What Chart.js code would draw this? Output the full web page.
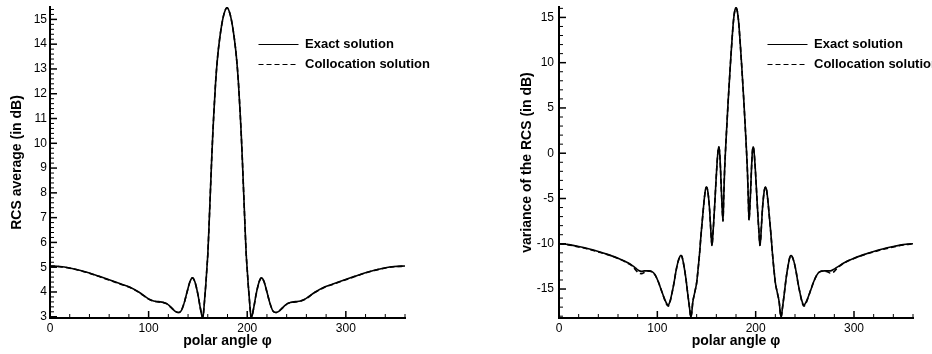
<!DOCTYPE html>
<html>
<head>
<meta charset="utf-8">
<script src="https://cdn.jsdelivr.net/npm/chart.js@4/dist/chart.umd.min.js"></script>
<style>
  html, body { margin: 0; padding: 0; background: #fff; width: 932px; height: 354px; overflow: hidden; }
  .panel { position: absolute; top: 0; width: 466px; height: 354px; }
</style>
</head>
<body>
<div class="panel" style="left:0"><canvas id="avgChart" width="466" height="354"></canvas></div>
<div class="panel" style="left:466px"><canvas id="varChart" width="466" height="354"></canvas></div>
<script>
// ---- RCS average (dB) versus polar angle ----
const avgAngle = [0, 10, 20, 30, 40, 50, 60, 70, 80, 90, 100, 105, 110, 115, 118, 121, 124, 127, 130, 133,
  136, 139, 142, 144.5, 147, 150, 152, 154, 155, 156, 157, 158, 159, 160, 161, 162, 163, 164, 165, 166,
  168, 170, 172, 174, 176, 178, 179.5, 181, 183, 185, 187, 189, 191, 193, 194, 195, 196, 197, 198, 199,
  200, 201, 202, 203, 204, 205, 207, 209, 212, 214.5, 217, 220, 223, 226, 229, 232, 235, 238, 241, 244,
  249, 254, 259, 269, 279, 289, 299, 309, 319, 329, 339, 349, 360];
const avgExact = [5.05, 5.03, 4.97, 4.88, 4.77, 4.63, 4.49, 4.35, 4.21, 4.0, 3.72, 3.64, 3.61, 3.58, 3.54, 3.45, 3.33, 3.22, 3.17, 3.24,
  3.55, 4.0, 4.42, 4.57, 4.4, 3.9, 3.45, 3.05, 2.95, 3.3, 3.8, 4.3, 4.9, 5.5, 6.4, 7.4, 8.4, 9.4, 10.3, 11.1,
  12.5, 13.5, 14.2, 14.75, 15.15, 15.4, 15.47, 15.4, 15.15, 14.75, 14.2, 13.5, 12.5, 11.1, 10.3, 9.4, 8.4, 7.4, 6.4, 5.5,
  4.9, 4.3, 3.8, 3.3, 2.95, 3.05, 3.45, 3.9, 4.4, 4.57, 4.42, 4.0, 3.55, 3.24, 3.17, 3.22, 3.33, 3.45, 3.54, 3.58,
  3.61, 3.64, 3.72, 4.0, 4.21, 4.35, 4.49, 4.63, 4.77, 4.88, 4.97, 5.03, 5.05];
const avgColloc = [5.04, 5.02, 4.96, 4.87, 4.76, 4.62, 4.48, 4.34, 4.2, 3.99, 3.71, 3.63, 3.6, 3.57, 3.53, 3.44, 3.33, 3.22, 3.17, 3.24,
  3.55, 4.0, 4.42, 4.57, 4.4, 3.9, 3.45, 3.05, 2.95, 3.3, 3.8, 4.3, 4.9, 5.5, 6.4, 7.4, 8.4, 9.4, 10.3, 11.1,
  12.5, 13.5, 14.2, 14.75, 15.15, 15.4, 15.47, 15.4, 15.15, 14.75, 14.2, 13.5, 12.5, 11.1, 10.3, 9.4, 8.4, 7.4, 6.4, 5.5,
  4.9, 4.3, 3.8, 3.3, 2.95, 3.05, 3.45, 3.9, 4.4, 4.57, 4.42, 4.0, 3.55, 3.24, 3.17, 3.22, 3.33, 3.44, 3.53, 3.57,
  3.6, 3.63, 3.71, 3.99, 4.2, 4.34, 4.48, 4.62, 4.76, 4.87, 4.96, 5.02, 5.04];
const avgYTicks = [3, 4, 5, 6, 7, 8, 9, 10, 11, 12, 13, 14, 15];

// ---- variance of the RCS (dB) versus polar angle ----
const varAngle = [0, 10, 20, 30, 40, 50, 60, 70, 75, 78, 81, 84, 87, 90, 95, 98, 101, 104, 107, 109,
  111, 113, 115, 117, 119, 121, 123, 124, 125, 127, 129, 131, 133, 134, 135, 136, 138, 140, 141, 142,
  143, 144, 145, 146, 147, 148, 149, 150, 151, 152, 153, 154, 155, 155.6, 156.5, 157.5, 158.5, 159.5, 160.5, 161.5,
  162.4, 163.3, 164.2, 165, 166, 166.8, 167.5, 168.3, 169.2, 170, 171, 172, 173, 174, 175, 176, 177, 178, 179, 180,
  181, 182, 183, 184, 185, 186, 187, 188, 189, 190, 190.8, 191.7, 192.5, 193.2, 194, 195, 195.8, 196.7, 197.6, 198.5,
  199.5, 200.5, 201.5, 202.5, 203.5, 204.3, 205, 206, 207, 208, 209, 210, 211, 212, 213, 214, 215, 216, 217, 218,
  219, 220, 222, 224, 225, 226, 227, 229, 231, 233, 235, 236, 237, 239, 241, 243, 245, 247, 249, 251,
  253, 256, 259, 262, 265, 270, 273, 276, 279, 282, 285, 290, 300, 310, 320, 330, 340, 350, 360];
const varExact = [-10.0, -10.1, -10.3, -10.55, -10.85, -11.2, -11.6, -12.1, -12.45, -12.7, -12.95, -13.05, -13.0, -13.0, -13.1, -13.5, -14.2, -15.1, -16.0, -16.5,
  -16.8, -16.3, -15.4, -14.3, -13.0, -12.0, -11.4, -11.3, -11.4, -12.4, -13.8, -15.6, -17.3, -18.1, -17.6, -16.5, -15.4, -14.3, -13.3, -12.2,
  -11.0, -9.6, -8.3, -7.1, -5.9, -4.8, -4.0, -3.75, -4.0, -4.8, -6.0, -7.8, -9.6, -10.2, -9.0, -7.3, -5.4, -3.4, -1.5, 0.0,
  0.7, 0.2, -1.6, -3.8, -6.2, -7.5, -5.0, -2.2, 0.0, 1.7, 3.7, 5.7, 7.5, 9.3, 11.0, 12.6, 14.1, 15.2, 15.85, 16.05,
  15.85, 15.2, 14.1, 12.6, 11.0, 9.3, 7.5, 5.7, 3.7, 1.7, 0.0, -2.2, -5.0, -7.4, -6.2, -3.8, -1.6, 0.2, 0.7, 0.0,
  -1.5, -3.4, -5.4, -7.3, -9.0, -10.2, -9.6, -7.8, -6.0, -4.8, -4.0, -3.75, -4.0, -4.8, -5.9, -7.1, -8.3, -9.6, -11.0, -12.2,
  -13.3, -14.3, -15.4, -16.5, -17.6, -18.1, -17.3, -15.6, -13.8, -12.4, -11.4, -11.3, -11.4, -12.0, -13.0, -14.3, -15.4, -16.3, -16.8, -16.5,
  -16.0, -15.1, -14.2, -13.5, -13.1, -13.0, -13.0, -13.0, -12.85, -12.65, -12.45, -12.1, -11.6, -11.2, -10.85, -10.55, -10.3, -10.1, -10.0];
const varColloc = [-10.0, -10.12, -10.35, -10.6, -10.9, -11.22, -11.62, -12.15, -12.5, -12.9, -13.25, -13.3, -13.15, -13.0, -13.1, -13.5, -14.2, -15.1, -16.05, -16.6,
  -16.9, -16.4, -15.4, -14.3, -13.0, -12.0, -11.4, -11.3, -11.4, -12.4, -13.8, -15.6, -17.3, -18.1, -17.6, -16.5, -15.4, -14.3, -13.3, -12.2,
  -11.0, -9.6, -8.3, -7.1, -5.9, -4.8, -4.0, -3.75, -4.0, -4.8, -6.0, -7.8, -9.6, -10.2, -9.0, -7.3, -5.4, -3.4, -1.5, 0.0,
  0.7, 0.2, -1.6, -3.8, -6.2, -7.5, -5.0, -2.2, 0.0, 1.7, 3.7, 5.7, 7.5, 9.3, 11.0, 12.6, 14.1, 15.2, 15.85, 16.05,
  15.85, 15.2, 14.1, 12.6, 11.0, 9.3, 7.5, 5.7, 3.7, 1.7, 0.0, -2.2, -5.0, -7.4, -6.2, -3.8, -1.6, 0.2, 0.7, 0.0,
  -1.5, -3.4, -5.4, -7.3, -9.0, -10.2, -9.6, -7.8, -6.0, -4.8, -4.0, -3.75, -4.0, -4.8, -5.9, -7.1, -8.3, -9.6, -11.0, -12.2,
  -13.3, -14.3, -15.4, -16.5, -17.6, -18.1, -17.3, -15.6, -13.8, -12.4, -11.4, -11.3, -11.4, -12.0, -13.0, -14.3, -15.4, -16.4, -16.9, -16.6,
  -16.05, -15.1, -14.2, -13.5, -13.1, -13.0, -13.1, -13.25, -13.15, -12.8, -12.5, -12.12, -11.62, -11.22, -10.9, -10.6, -10.35, -10.12, -10.0];
const varYTicks = [-15, -10, -5, 0, 5, 10, 15];

const angleTicks = [0, 100, 200, 300];
const seriesNames = ['Exact solution', 'Collocation solution'];

const FONT = '"Liberation Sans", Arial, Helvetica, sans-serif';

// Tecplot-style inward tick marks (major + minor), positioned through the chart's scales
const inwardTicks = {
  id: 'inwardTicks',
  afterDraw(chart, args, opts) {
    const { ctx, chartArea: a, scales: { x, y } } = chart;
    ctx.save();
    ctx.strokeStyle = '#000';
    const run = (scale, minor, ratio, horizontal) => {
      const i0 = Math.ceil(scale.min / minor - 1e-9);
      const i1 = Math.floor(scale.max / minor + 1e-9);
      for (let i = i0; i <= i1; i++) {
        const major = i % ratio === 0;
        const len = major ? 7 : 4;
        ctx.lineWidth = major ? 1.5 : 1;
        const p = scale.getPixelForValue(i * minor);
        ctx.beginPath();
        if (horizontal) { ctx.moveTo(p, a.bottom); ctx.lineTo(p, a.bottom - len); }
        else { ctx.moveTo(a.left, p); ctx.lineTo(a.left + len, p); }
        ctx.stroke();
      }
    };
    run(x, opts.xMinor, opts.xRatio, true);
    run(y, opts.yMinor, opts.yRatio, false);
    ctx.restore();
  }
};

// Legend drawn inside the plot area, top right
const insideLegend = {
  id: 'insideLegend',
  afterDraw(chart) {
    const { ctx, chartArea: a } = chart;
    ctx.save();
    chart.data.datasets.forEach((ds, i) => {
      const yy = a.top + 37.5 + i * 20;
      const x0 = a.left + 208.5;
      ctx.strokeStyle = ds.borderColor;
      ctx.lineWidth = 1.2;
      ctx.setLineDash(ds.borderDash || []);
      ctx.beginPath();
      ctx.moveTo(x0, yy);
      ctx.lineTo(x0 + 40, yy);
      ctx.stroke();
      ctx.setLineDash([]);
      ctx.fillStyle = '#000';
      ctx.font = 'bold 13px ' + FONT;
      ctx.textBaseline = 'middle';
      ctx.textAlign = 'left';
      ctx.fillText(ds.label, x0 + 46.5, yy);
    });
    ctx.restore();
  }
};

function points(xs, ys) { return xs.map((v, i) => ({ x: v, y: ys[i] })); }

function makeChart(id, angles, exact, colloc, cfg) {
  return new Chart(document.getElementById(id), {
    type: 'line',
    data: {
      datasets: [
        { label: seriesNames[0], data: points(angles, exact), borderColor: '#000', borderWidth: 1.6,
          pointRadius: 0, cubicInterpolationMode: 'monotone', fill: false },
        { label: seriesNames[1], data: points(angles, colloc), borderColor: '#000', borderWidth: 1.6,
          borderDash: [5, 3], pointRadius: 0, cubicInterpolationMode: 'monotone', fill: false }
      ]
    },
    options: {
      responsive: false,
      animation: false,
      events: [],
      layout: { padding: { top: 7, right: cfg.padRight, left: 0, bottom: 0 } },
      plugins: {
        legend: { display: false },
        tooltip: { enabled: false },
        inwardTicks: { xMinor: 20, xRatio: 5, yMinor: cfg.yMinor, yRatio: cfg.yRatio }
      },
      scales: {
        x: {
          type: 'linear', min: 0, max: 360,
          grid: { display: false, drawTicks: false },
          border: { display: true, color: '#000', width: 2 },
          afterBuildTicks: s => { s.ticks = angleTicks.map(v => ({ value: v })); },
          afterFit: s => { s.height = 36; s.paddingLeft = 0; s.paddingRight = 0; },
          ticks: { color: '#000', padding: 3, maxRotation: 0, font: { family: FONT, size: 12 } },
          title: { display: true, text: 'polar angle \u03C6', color: '#000', padding: { top: 0, bottom: 4 },
                   font: { family: FONT, size: 14, weight: 'bold' } }
        },
        y: {
          type: 'linear', min: cfg.yMin, max: cfg.yMax,
          grid: { display: false, drawTicks: false },
          border: { display: true, color: '#000', width: 2 },
          afterBuildTicks: s => { s.ticks = cfg.yTicks.map(v => ({ value: v })); },
          afterFit: s => { s.width = cfg.yWidth; s.paddingTop = 0; s.paddingBottom = 0; },
          ticks: { color: '#000', padding: cfg.tickPad, font: { family: FONT, size: 12 } },
          title: { display: true, text: cfg.title, color: '#000', padding: { top: cfg.titlePad, bottom: 0 },
                   font: { family: FONT, size: 14, weight: 'bold' } }
        }
      }
    },
    plugins: [inwardTicks, insideLegend]
  });
}

makeChart('avgChart', avgAngle, avgExact, avgColloc, {
  yMin: 2.95, yMax: 15.5, yTicks: avgYTicks, yMinor: 0.2, yRatio: 5,
  yWidth: 50, padRight: 61, tickPad: 3, titlePad: 8.5, title: 'RCS average (in dB)'
});

makeChart('varChart', varAngle, varExact, varColloc, {
  yMin: -18.2, yMax: 16.15, yTicks: varYTicks, yMinor: 1, yRatio: 5,
  yWidth: 93, padRight: 19, tickPad: 5, titlePad: 52.5, title: 'variance of the RCS (in dB)'
});
</script>
</body>
</html>
